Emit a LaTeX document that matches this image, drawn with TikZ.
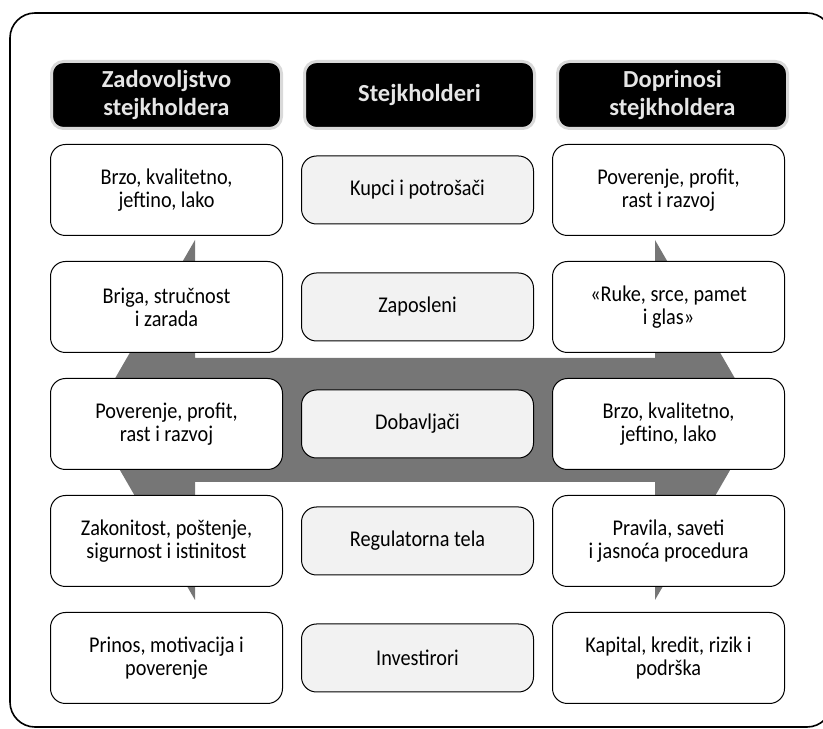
\documentclass[tikz,border=0pt]{standalone}
\usepackage{fontspec}
\setmainfont{Carlito}[FakeStretch=0.9]
\newfontfamily\headfont{Carlito}
\usetikzlibrary{positioning}
\definecolor{bandgray}{HTML}{767676}
\definecolor{headrim}{HTML}{D9D9D9}
\definecolor{headtext}{HTML}{E6E6E6}
\definecolor{midfill}{HTML}{F2F2F2}

\begin{document}
\begin{tikzpicture}[x=1pt, y=1pt, node distance=25pt and 18pt,
  every node/.style={align=center, font=\fontsize{22.5}{22.7}\selectfont},
  headbox/.style={fill=black, draw=headrim, line width=3pt, rounded corners=12pt, minimum width=230pt, minimum height=67pt, text=headtext, font=\headfont\fontsize{24.5}{27.5}\selectfont\bfseries},
  sidebox/.style={fill=white, draw=black, line width=1pt, rounded corners=15pt, minimum width=232pt, minimum height=91pt, inner sep=2pt},
  midbox/.style={sidebox, fill=midfill, minimum height=68pt}]
  \useasboundingbox (0,0) rectangle (823,729);
  \draw[line width=1.6pt, rounded corners=25pt] (10,716) rectangle (832,2);
  % grey band behind the boxes
  \fill[bandgray] (195,489) -- (91,309) -- (195,129) -- (195,247) -- (655,247) -- (655,129)
    -- (759,309) -- (655,489) -- (655,371) -- (195,371) -- cycle;

  % headers
  \node[headbox] (zh) at (166.5,634) {Zadovoljstvo\\stejkholdera};
  \node[headbox, right=20pt of zh] (sh) {Stejkholderi};
  \node[headbox, right=20pt of sh] (dh) {Doprinosi\\stejkholdera};

  % left column
  \node[sidebox, below=14pt of zh] (z1) {Brzo, kvalitetno,\\jeftino, lako};
  \node[sidebox, below=of z1] (z2) {Briga, stručnost\\i zarada};
  \node[sidebox, below=of z2] (z3) {Poverenje, profit,\\rast i razvoj};
  \node[sidebox, below=of z3] (z4) {Zakonitost, poštenje,\\sigurnost i istinitost};
  \node[sidebox, below=of z4] (z5) {Prinos, motivacija i\\poverenje};

  % middle column
  \node[midbox, right=of z1] (s1) {Kupci i potrošači};
  \node[midbox, right=of z2] (s2) {Zaposleni};
  \node[midbox, right=of z3] (s3) {Dobavljači};
  \node[midbox, right=of z4] (s4) {Regulatorna tela};
  \node[midbox, right=of z5] (s5) {Investirori};

  % right column
  \node[sidebox, right=of s1] (d1) {Poverenje, profit,\\rast i razvoj};
  \node[sidebox, right=of s2] (d2) {«Ruke, srce, pamet\\i glas»};
  \node[sidebox, right=of s3] (d3) {Brzo, kvalitetno,\\jeftino, lako};
  \node[sidebox, right=of s4] (d4) {Pravila, saveti\\i jasnoća procedura};
  \node[sidebox, right=of s5] (d5) {Kapital, kredit, rizik i\\podrška};
\end{tikzpicture}
\end{document}
